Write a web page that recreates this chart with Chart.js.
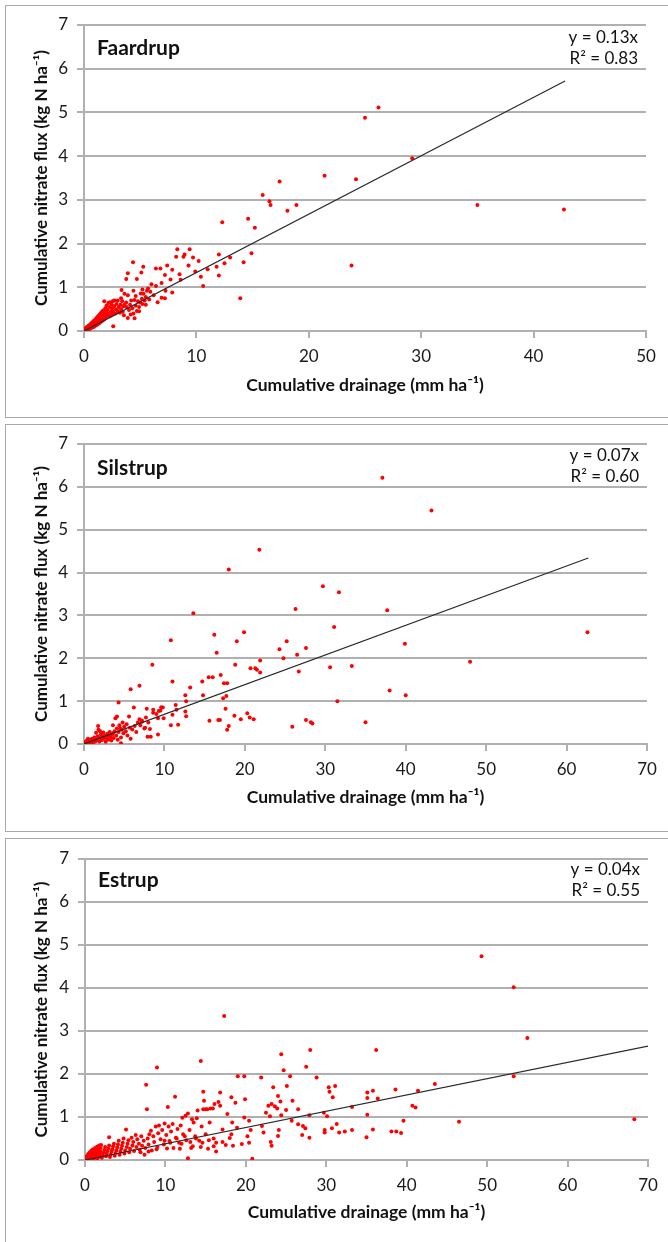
<!DOCTYPE html>
<html>
<head>
<meta charset="utf-8">
<script src="https://cdn.jsdelivr.net/npm/chart.js@4.4.1/dist/chart.umd.min.js"></script>
<style>
  body { margin: 0; background: #fff; width: 668px; height: 1242px; position: relative; overflow: hidden; }
  .frame { position: absolute; left: 5px; width: 700px; border: 1px solid #a8a8a8; box-sizing: border-box; }
  canvas { position: absolute; left: 0; }
</style>
</head>
<body>
<div class="frame" style="top:5px; height:413px;"></div>
<div class="frame" style="top:424px; height:408px;"></div>
<div class="frame" style="top:838px; height:420px;"></div>
<canvas id="faardrupChart" width="668" height="420" style="top:0px"></canvas>
<canvas id="silstrupChart" width="668" height="411" style="top:420px"></canvas>
<canvas id="estrupChart" width="668" height="414" style="top:828px"></canvas>
<script>
// Site names and regression labels
const siteNames = ['Faardrup', 'Silstrup', 'Estrup'];
const equationLabels = ['y = 0.13x', 'y = 0.07x', 'y = 0.04x'];
const r2Labels = ['R² = 0.83', 'R² = 0.60', 'R² = 0.55'];
const xMaxValues = [50, 70, 70];
const yMaxValue = 7;

// [cumulative drainage, cumulative nitrate flux]
const faardrupPoints = [
  [0.0,0.0],[0.05,0.03],[0.1,0.01],[0.1,0.06],[0.15,0.04],[0.2,0.02],[0.2,0.08],[0.25,0.05],[0.3,0.03],[0.3,0.1],
  [0.35,0.07],[0.4,0.04],[0.4,0.12],[0.45,0.08],[0.5,0.05],[0.5,0.14],[0.55,0.1],[0.6,0.06],[0.6,0.16],[0.65,0.11],
  [0.7,0.08],[0.7,0.19],[0.75,0.13],[0.8,0.09],[0.8,0.21],[0.85,0.15],[0.9,0.1],[0.9,0.24],[0.95,0.17],[1.0,0.12],
  [1.0,0.26],[1.05,0.19],[1.1,0.14],[1.1,0.29],[1.15,0.21],[1.2,0.15],[1.2,0.32],[1.25,0.23],[1.3,0.17],[1.3,0.35],
  [1.35,0.26],[1.4,0.19],[1.4,0.38],[1.45,0.28],[1.5,0.21],[1.5,0.41],[1.55,0.3],[1.6,0.23],[1.6,0.44],[1.65,0.33],
  [1.7,0.25],[1.7,0.47],[1.75,0.36],[1.8,0.27],[1.8,0.68],[1.85,0.4],[1.9,0.3],[1.9,0.52],[1.95,0.44],[2.0,0.32],
  [2.0,0.58],[2.1,0.36],[2.1,0.48],[2.15,0.64],[2.2,0.4],[2.25,0.55],[2.3,0.34],[2.3,0.66],[2.4,0.45],[2.45,0.6],
  [2.5,0.38],[2.5,0.52],[2.55,0.68],[2.6,0.11],[2.6,0.44],[2.7,0.57],[2.7,0.7],[2.8,0.4],[2.85,0.5],[2.9,0.62],
  [3.0,0.46],[3.0,0.7],[3.1,0.55],[3.2,0.42],[3.25,0.6],[3.3,0.5],[3.3,0.75],[3.34,0.94],[3.4,0.68],[3.45,0.44],
  [3.5,0.56],[3.55,0.36],[3.6,0.6],[3.6,0.85],[3.75,0.65],[3.76,1.19],[3.8,0.55],[3.9,1.32],[3.9,0.82],[3.9,0.3],
  [4.0,0.48],[4.1,0.6],[4.15,0.38],[4.2,0.7],[4.3,0.52],[4.36,1.57],[4.4,0.92],[4.4,0.4],[4.5,0.71],[4.5,0.29],
  [4.6,0.58],[4.6,0.8],[4.7,1.19],[4.7,0.46],[4.8,0.68],[4.9,0.55],[4.9,0.45],[5.0,0.65],[5.05,0.86],[5.1,1.34],
  [5.15,0.74],[5.2,0.62],[5.2,0.95],[5.27,1.47],[5.3,0.85],[5.4,0.7],[5.5,0.78],[5.5,0.6],[5.6,0.92],[5.7,0.97],
  [5.8,0.72],[5.9,0.9],[6.0,1.07],[6.2,0.82],[6.4,1.03],[6.4,1.43],[6.55,0.66],[6.8,1.43],[6.9,1.1],[6.9,0.76],
  [7.2,1.28],[7.2,0.75],[7.25,0.92],[7.4,1.5],[7.7,1.18],[7.85,1.4],[7.85,0.88],
  [8.2,1.7],[8.3,1.87],[8.5,1.3],[8.6,1.17],[8.85,1.7],[8.95,1.75],[9.3,1.5],[9.4,1.87],[9.7,1.68],[9.9,1.36],
  [10.2,1.6],[10.4,1.24],[10.6,1.03],[11.0,1.41],[11.8,1.47],[12.0,1.75],[12.0,1.27],[12.3,2.49],[12.5,1.55],[13.0,1.68],
  [13.9,0.75],[14.2,1.57],[14.6,2.57],[14.9,1.78],[15.2,2.36],[15.9,3.11],
  [16.5,2.97],[16.6,2.88],[17.4,3.42],[18.1,2.75],[18.9,2.88],[21.4,3.55],[23.8,1.5],[24.2,3.47],[25.0,4.88],[26.2,5.11],
  [29.2,3.95],[35.0,2.88],[42.7,2.78]
];

const silstrupPoints = [
  [0.0,0.0],[0.05,0.03],[0.1,0.02],[0.2,0.05],[0.3,0.01],[0.35,0.08],[0.4,0.06],[0.5,0.03],[0.5,0.12],[0.6,0.08],
  [0.7,0.02],[0.8,0.1],[0.9,0.05],[1.0,0.12],[1.1,0.03],[1.2,0.08],[1.3,0.15],[1.4,0.06],[1.5,0.26],[1.5,0.1],
  [1.6,0.1],[1.7,0.18],[1.75,0.42],[1.8,0.33],[1.9,0.06],[2.0,0.14],[2.0,0.3],[2.1,0.22],[2.2,0.09],[2.3,0.17],
  [2.4,0.27],[2.5,0.12],[2.6,0.2],[2.7,0.05],[2.8,0.15],[2.9,0.24],[3.0,0.1],[3.1,0.2],[3.2,0.28],[3.3,0.16],
  [3.4,0.08],[3.5,0.22],[3.6,0.44],[3.6,0.25],[3.7,0.14],[3.8,0.3],[3.9,0.6],[4.0,0.2],[4.1,0.64],[4.1,0.36],
  [4.2,0.1],[4.3,0.28],[4.3,0.97],[4.4,0.44],[4.5,0.37],[4.6,0.15],[4.6,0.02],[4.7,0.33],[4.8,0.5],[4.9,0.25],
  [5.0,0.4],[5.2,0.3],[5.3,0.46],[5.4,0.2],[5.6,0.64],[5.7,0.38],[5.8,1.28],[5.8,0.12],[6.0,0.34],[6.2,0.85],
  [6.3,0.42],[6.5,0.28],[6.7,0.5],[6.9,1.36],[6.9,0.58],[7.0,0.44],[7.2,0.52],[7.2,0.55],[7.5,0.36],[7.6,0.38],
  [7.7,0.62],[7.8,0.82],[7.9,0.17],[8.0,0.5],[8.2,0.35],[8.3,0.17],[8.5,1.85],[8.6,0.73],[8.6,0.8],[9.0,0.7],
  [9.2,0.6],[9.2,0.22],[9.3,0.77],[9.5,0.78],[9.6,0.86],[9.8,0.85],[9.9,0.6],[10.8,2.42],[10.8,0.44],[11.0,1.46],
  [11.0,0.68],[11.4,0.91],[11.5,0.8],[11.7,0.45],[12.6,1.14],[12.6,0.76],[12.7,0.65],[12.7,1.0],[13.2,1.32],[13.6,3.05],
  [14.7,1.46],[14.8,1.14],[15.5,1.56],[15.6,0.54],[16.0,1.56],[16.2,2.55],[16.5,2.13],[16.7,0.56],[16.9,0.56],[17.0,1.61],
  [17.3,1.07],[17.4,1.42],[17.6,0.82],[17.7,1.12],[17.8,1.42],[17.8,0.33],[18.0,4.07],[18.0,0.42],[18.7,0.66],[18.8,1.85],
  [19.0,2.4],[19.5,0.58],[19.9,2.61],
  [20.3,0.72],[20.6,0.62],[20.7,1.77],[21.1,0.58],[21.3,1.77],[21.5,1.73],[21.8,4.53],[21.9,1.95],[21.9,1.67],[24.3,2.21],
  [24.8,2.0],[25.2,2.4],[25.9,0.4],[26.3,3.15],[26.5,2.08],[26.7,1.69],[27.6,2.24],[27.6,0.56],[28.2,0.51],[28.4,0.48],
  [29.7,3.68],[30.6,1.79],[31.1,2.73],[31.5,1.0],[31.7,3.54],[33.3,1.82],[35.0,0.51],[37.1,6.21],[37.7,3.12],[38.0,1.25],
  [39.9,2.34],[40.0,1.14],[43.2,5.45],[48.0,1.92],[62.6,2.61]
];

const estrupPoints = [
  [0.0,0.0],[0.05,0.02],[0.1,0.05],[0.15,0.01],[0.2,0.08],[0.25,0.03],[0.3,0.1],[0.35,0.05],[0.4,0.14],[0.45,0.02],
  [0.5,0.07],[0.55,0.12],[0.6,0.18],[0.65,0.04],[0.7,0.09],[0.75,0.15],[0.8,0.22],[0.85,0.06],[0.9,0.11],[0.95,0.17],
  [1.0,0.25],[1.05,0.03],[1.1,0.08],[1.15,0.13],[1.2,0.2],[1.25,0.28],[1.3,0.06],[1.35,0.1],[1.4,0.16],[1.45,0.22],
  [1.5,0.31],[1.55,0.04],[1.6,0.12],[1.65,0.18],[1.7,0.25],[1.75,0.34],[1.8,0.08],[1.85,0.14],[1.9,0.2],[1.95,0.28],
  [2.0,0.35],[2.1,0.05],[2.2,0.11],[2.3,0.17],[2.4,0.23],[2.5,0.3],[2.6,0.09],[2.7,0.15],[2.8,0.21],[2.9,0.27],
  [3.0,0.53],[3.0,0.34],[3.1,0.07],[3.2,0.13],[3.3,0.19],[3.4,0.25],[3.5,0.32],[3.6,0.38],[3.7,0.1],[3.8,0.16],
  [3.9,0.22],[4.0,0.29],[4.1,0.36],[4.2,0.45],[4.3,0.12],[4.4,0.19],[4.5,0.26],[4.6,0.33],[4.7,0.4],[4.8,0.5],
  [4.9,0.15],[5.0,0.22],[5.1,0.71],[5.2,0.3],[5.3,0.38],[5.4,0.46],[5.5,0.18],[5.6,0.26],[5.8,0.52],[5.9,0.34],
  [6.0,0.42],[6.1,0.21],[6.3,0.58],[6.4,0.3],[6.5,0.48],[6.7,0.38],[6.8,0.24],[6.9,0.18],[7.0,0.55],[7.1,0.33],
  [7.3,0.45],[7.4,0.12],[7.5,0.28],[7.6,1.75],[7.7,1.18],[7.8,0.5],[7.9,0.36],[7.9,0.2],[8.0,0.6],[8.2,0.68],
  [8.3,0.22],[8.5,0.55],[8.6,0.42],[8.8,0.78],[8.9,0.25],[8.95,2.15],[9.0,0.3],[9.1,0.62],[9.2,0.8],[9.4,0.48],
  [9.6,0.7],[9.8,0.36],[9.9,0.85],[9.9,0.45],[10.1,0.58],[10.2,0.27],[10.3,1.23],[10.4,0.78],[10.5,0.44],[10.6,0.4],
  [10.7,0.66],[10.9,0.84],[11.0,0.28],[11.2,1.47],[11.3,0.52],[11.4,0.5],[11.5,0.72],[11.7,0.4],[11.8,0.26],[11.9,0.8],
  [12.0,0.38],[12.1,0.98],[12.2,0.6],[12.4,0.55],[12.5,1.03],[12.6,0.46],[12.8,1.08],[12.8,0.04],[13.0,0.7],[13.1,0.42],
  [13.2,0.28],[13.3,0.95],[13.4,0.32],[13.5,0.87],[13.7,0.55],[13.8,0.5],[13.9,0.97],[14.0,1.15],[14.2,0.45],[14.4,2.3],
  [14.4,0.3],[14.5,0.78],[14.6,0.4],[14.7,1.59],[14.7,1.18],[14.8,1.38],[15.0,0.6],[15.0,1.18],[15.2,1.18],[15.3,0.26],
  [15.4,0.46],[15.5,0.87],[15.6,1.2],[15.9,1.2],[16.0,0.5],[16.0,0.32],[16.1,1.3],[16.3,0.4],[16.3,0.2],[16.6,1.35],
  [16.8,1.57],[16.8,1.26],[17.1,0.71],[17.1,0.42],[17.3,3.35],[17.5,0.35],[17.7,1.07],[18.0,0.51],[18.2,1.46],[18.2,0.6],
  [18.3,0.87],[18.4,0.33],[18.7,1.33],[18.9,0.75],[19.0,1.95],[19.5,0.37],[19.8,1.95],[19.8,0.99],[19.9,1.41],[20.2,0.55],
  [20.4,0.91],[20.4,0.4],[20.6,0.7],[20.8,0.03],
  [21.9,1.92],[22.0,0.79],[22.2,0.64],[22.5,1.1],[22.8,1.26],[23.0,1.02],[23.1,0.42],[23.2,1.3],[23.2,0.33],[23.4,1.69],
  [23.6,1.25],[23.9,1.2],[24.0,1.49],[24.0,0.56],[24.1,0.7],[24.3,1.36],[24.4,2.46],[24.4,1.04],[24.7,2.09],[25.0,1.16],
  [25.1,1.72],[25.5,1.95],[25.7,0.91],[25.8,1.38],[26.5,1.18],[26.5,0.83],[27.0,0.58],[27.1,0.79],[27.4,0.74],[27.5,2.17],
  [27.9,1.04],[27.9,0.52],[28.0,2.56],[28.8,1.92],[29.7,1.1],[29.8,0.7],[29.8,0.64],[30.1,1.02],[30.3,1.69],[30.4,1.59],
  [30.7,0.74],[30.8,1.46],[31.1,1.72],[31.3,0.84],[31.6,0.64],[32.3,0.66],[33.2,1.23],[33.2,0.7],[35.0,0.53],[35.1,1.57],
  [35.1,1.44],[35.1,1.05],[35.8,1.61],[35.8,0.71],[36.2,2.56],[36.4,1.43],[38.1,0.66],[38.6,1.64],[38.7,0.66],[39.3,0.63],
  [39.6,0.91],[40.7,1.26],[41.1,1.22],[41.4,1.61],[43.5,1.77],
  [46.5,0.89],[49.3,4.74],[53.3,4.02],[53.3,1.95],[55.0,2.84],[68.3,0.95]
];

// Linear trend lines through the origin (start and end of each drawn line)
const faardrupTrend = [[0, 0], [42.8, 5.72]];
const silstrupTrend = [[0, 0], [62.7, 4.34]];
const estrupTrend = [[0, 0], [70, 2.65]];

Chart.defaults.font.family = 'Lato, "Open Sans", sans-serif';

// Draws site name and regression text inside the plot area
const siteLabelPlugin = {
    id: 'siteLabel',
    afterDraw(chart, args, opts) {
        const ctx = chart.ctx;
        const area = chart.chartArea;
        ctx.save();
        ctx.fillStyle = '#111';
        ctx.textBaseline = 'middle';
        ctx.font = 'bold 21px Lato, sans-serif';
        ctx.textAlign = 'left';
        ctx.fillText(opts.name, area.left + 13, area.top + opts.nameDy);
        ctx.font = '17px Lato, sans-serif';
        ctx.textAlign = 'right';
        ctx.fillText(opts.eq, area.right - 8, area.top + opts.eqDy);
        ctx.fillText(opts.r2, area.right - 8, area.top + opts.eqDy + 21);
        ctx.restore();
    }
};

function toXY(list) {
    return list.map(p => ({ x: p[0], y: p[1] }));
}

function buildChart(id, idx, points, trend, box) {
    const ctx = document.getElementById(id).getContext('2d');
    const gridColor = '#b0b0b0';
    return new Chart(ctx, {
        type: 'scatter',
        data: {
            datasets: [{
                data: toXY(trend),
                showLine: true,
                borderColor: '#2a2a2a',
                borderWidth: 1.2,
                pointRadius: 0,
                fill: false
            }, {
                data: toXY(points),
                backgroundColor: '#ff0000',
                borderWidth: 0,
                pointRadius: 2
            }]
        },
        options: {
            responsive: false,
            animation: false,
            events: [],
            layout: { padding: { left: 0, top: box.top, right: 668 - box.right, bottom: 0 } },
            plugins: {
                legend: { display: false },
                tooltip: { enabled: false },
                siteLabel: { name: siteNames[idx], eq: equationLabels[idx], r2: r2Labels[idx], nameDy: box.nameDy, eqDy: box.eqDy }
            },
            scales: {
                x: {
                    type: 'linear',
                    min: 0,
                    max: xMaxValues[idx],
                    ticks: { stepSize: 10, padding: 8, color: '#1a1a1a', font: { size: 17 } },
                    grid: { drawOnChartArea: false, drawTicks: true, tickLength: 7, color: gridColor, lineWidth: 2 },
                    border: { display: true, color: gridColor, width: 2 },
                    title: {
                        display: true,
                        text: 'Cumulative drainage (mm ha⁻¹)',
                        color: '#111',
                        font: { size: 17.5, weight: 'bold' },
                        padding: { top: 0, bottom: box.xTitlePad }
                    },
                    afterFit: s => { s.height = box.h - box.bottom; }
                },
                y: {
                    min: 0,
                    max: yMaxValue,
                    ticks: { stepSize: 1, padding: 9, color: '#1a1a1a', font: { size: 17 } },
                    grid: { drawTicks: true, tickLength: 7, color: gridColor, lineWidth: 2 },
                    border: { display: true, color: gridColor, width: 2 },
                    title: {
                        display: true,
                        text: 'Cumulative nitrate flux (kg N ha⁻¹)',
                        color: '#111',
                        font: { size: 17, weight: 'bold' },
                        padding: { top: 31, bottom: 0 }
                    },
                    afterFit: s => { s.width = box.left; }
                }
            }
        },
        plugins: [siteLabelPlugin]
    });
}

buildChart('faardrupChart', 0, faardrupPoints, faardrupTrend,
    { h: 420, top: 25, bottom: 331, left: 84, right: 646, xTitlePad: 24, nameDy: 23, eqDy: 13 });
buildChart('silstrupChart', 1, silstrupPoints, silstrupTrend,
    { h: 411, top: 24, bottom: 324, left: 84, right: 647, xTitlePad: 23, nameDy: 24, eqDy: 12 });
buildChart('estrupChart', 2, estrupPoints, estrupTrend,
    { h: 414, top: 31, bottom: 332, left: 85, right: 648, xTitlePad: 19, nameDy: 21, eqDy: 11 });
</script>
</body>
</html>
